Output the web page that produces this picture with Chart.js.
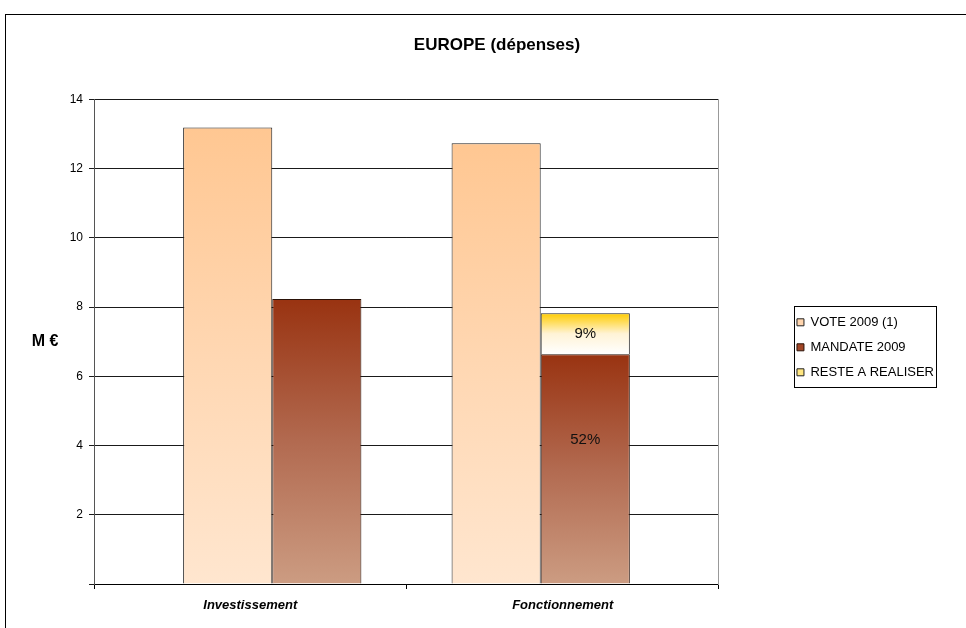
<!DOCTYPE html>
<html>
<head>
<meta charset="utf-8">
<title>EUROPE (dépenses)</title>
<script src="https://cdn.jsdelivr.net/npm/chart.js@4"></script>
<style>
    body { margin: 0; background: #fff; overflow: hidden; }
    #frame { position: absolute; left: 5px; top: 14px; width: 1000px; height: 700px; border: 1px solid #000; }
    #box { position: absolute; left: 0; top: 0; width: 982px; height: 613px; }
</style>
</head>
<body>
<div id="frame">
    <div id="box"><canvas id="barChart"></canvas></div>
</div>
<script>
// Data for the chart
const categories = ['Investissement', 'Fonctionnement'];
const vote2009 = [13.19, 12.73];
const mandate2009 = [8.23, 6.64];
const resteARealiser = [null, 1.18];
const mandateLabels = ['', '52%'];
const resteLabels = ['', '9%'];
const yTicks = [0, 2, 4, 6, 8, 10, 12, 14];

Chart.defaults.font.family = '"Liberation Sans", Arial, sans-serif';
Chart.defaults.color = '#000';

const points = arr => arr.map((v, i) => ({ x: i, y: v }));

// vertical gradient over each bar segment, from its top to its base
function barFill(stops, solid, base) {
    return function (ctx) {
        if (ctx.type !== 'data') return solid;
        const y = ctx.chart.scales.y;
        const b = base ? (base[ctx.dataIndex] || 0) : 0;
        const v = ctx.raw && ctx.raw.y;
        if (v == null) return solid;
        const y0 = y.getPixelForValue(b + v);
        const y1 = y.getPixelForValue(b);
        if (!isFinite(y0) || !isFinite(y1) || y0 === y1) return solid;
        const g = ctx.chart.ctx.createLinearGradient(0, y0, 0, y1);
        stops.forEach((c, i) => g.addColorStop(i / (stops.length - 1), c));
        return g;
    };
}

const barData = {
    labels: categories,
    datasets: [{
        label: 'VOTE 2009 (1)',
        data: points(vote2009),
        stack: 'vote',
        xAxisID: 'xb',
        backgroundColor: barFill(['#FFC792', '#FFD7B2', '#FFE6CF'], '#FFCC99'),
        borderColor: '#222',
        borderWidth: 1
    }, {
        label: 'MANDATE 2009',
        data: points(mandate2009),
        stack: 'mandate',
        xAxisID: 'xb',
        backgroundColor: barFill(['#993311', '#B26A50', '#CC9C82'], '#A8553A'),
        borderColor: '#2a1208',
        borderWidth: 1
    }, {
        label: 'RESTE A REALISER',
        data: points(resteARealiser),
        stack: 'mandate',
        xAxisID: 'xb',
        backgroundColor: barFill(['#FFCC00', '#FFF3D6', '#FFFFFF'], '#FFE680', mandate2009),
        borderColor: '#222',
        borderWidth: 1
    }]
};

// percentages written inside the Fonctionnement bars
const pctLabels = {
    id: 'pctLabels',
    afterDatasetsDraw(chart) {
        const ctx = chart.ctx;
        ctx.save();
        ctx.font = '15px "Liberation Sans", Arial, sans-serif';
        ctx.fillStyle = '#111';
        ctx.textAlign = 'center';
        ctx.textBaseline = 'middle';
        chart.getDatasetMeta(1).data.forEach((bar, i) => {
            if (mandateLabels[i]) ctx.fillText(mandateLabels[i], bar.x, bar.y + (bar.base - bar.y) * 0.375);
        });
        chart.getDatasetMeta(2).data.forEach((bar, i) => {
            if (resteLabels[i]) ctx.fillText(resteLabels[i], bar.x, (bar.y + bar.base) / 2);
        });
        ctx.restore();
    }
};

// axis unit and the frame round the legend
const extras = {
    id: 'extras',
    afterDraw(chart) {
        const ctx = chart.ctx;
        const area = chart.chartArea;
        ctx.save();
        ctx.font = 'bold 16px "Liberation Sans", Arial, sans-serif';
        ctx.fillStyle = '#000';
        ctx.textAlign = 'center';
        ctx.textBaseline = 'middle';
        ctx.fillText('M €', 39, (area.top + area.bottom) / 2);

        const boxes = chart.legend.legendHitBoxes;
        if (boxes && boxes.length) {
            const left = Math.min(...boxes.map(b => b.left)) - 3;
            const right = Math.max(...boxes.map(b => b.left + b.width)) + 2;
            const top = Math.min(...boxes.map(b => b.top)) - 10;
            const bottom = Math.max(...boxes.map(b => b.top + b.height)) + 8;
            ctx.strokeStyle = '#000';
            ctx.lineWidth = 1;
            ctx.strokeRect(Math.round(left) + 0.5, Math.round(top) + 0.5, Math.round(right - left), Math.round(bottom - top));
        }
        ctx.restore();
    }
};

const barOptions = {
    type: 'bar',
    data: barData,
    plugins: [pctLabels, extras],
    options: {
        maintainAspectRatio: false,
        responsive: true,
        animation: false,
        categoryPercentage: 0.664,
        barPercentage: 1,
        layout: { padding: 0 },
        plugins: {
            title: {
                display: true,
                text: 'EUROPE (dépenses)',
                font: { size: 17, weight: 'bold' },
                color: '#000',
                padding: { top: 20, bottom: 44 }
            },
            legend: {
                position: 'right',
                fullSize: false,
                maxWidth: 180,
                title: { display: true, text: '', font: { size: 1 }, padding: { top: 10, bottom: 0 } },
                labels: {
                    boxWidth: 7,
                    boxHeight: 7,
                    padding: 12,
                    font: { size: 13 },
                    color: '#000'
                }
            },
            tooltip: { enabled: false }
        },
        scales: {
            x: {
                type: 'category',
                offset: true,
                grid: { offset: true, drawOnChartArea: false, drawTicks: true, tickLength: 5, color: '#000' },
                border: { color: '#000' },
                ticks: { font: { size: 13, weight: 'bold', style: 'italic' }, padding: 9, color: '#000' },
                afterFit: s => { s.height = 44; }
            },
            xb: {
                type: 'linear',
                display: false,
                offset: false,
                min: -0.664,
                max: 1.664,
                ticks: { stepSize: 1, includeBounds: false }
            },
            y: {
                stacked: true,
                min: 0,
                max: 14,
                afterBuildTicks: s => { s.ticks = yTicks.map(v => ({ value: v })); },
                ticks: {
                    font: { size: 12 },
                    padding: 6,
                    color: '#000',
                    callback: v => (v === 0 ? '' : v)
                },
                grid: { color: '#1a1a1a', tickLength: 5 },
                border: { color: '#555' },
                afterFit: s => { s.width = 88; }
            },
            gap: {
                type: 'linear',
                position: 'right',
                grid: { display: false },
                ticks: { display: false },
                border: { color: '#999' },
                afterFit: s => { s.width = 66; }
            },
            edge: {
                type: 'linear',
                position: 'right',
                weight: 2000,
                grid: { display: false },
                ticks: { display: false },
                border: { display: false },
                afterFit: s => { s.width = 44; }
            }
        }
    }
};

document.addEventListener('DOMContentLoaded', function () {
    new Chart(document.getElementById('barChart'), barOptions);
});
</script>
</body>
</html>
